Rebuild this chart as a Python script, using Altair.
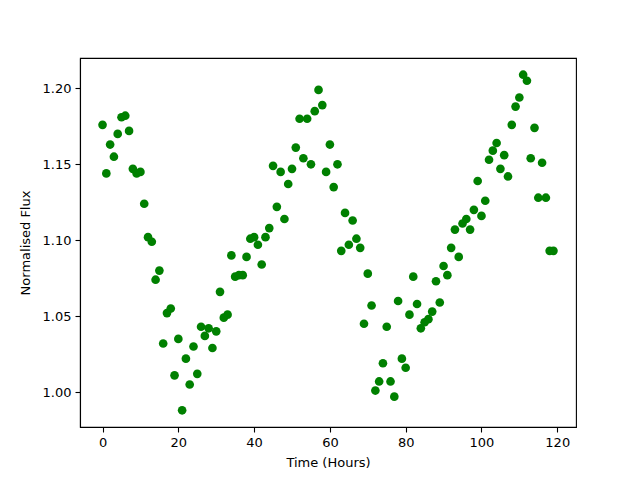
import altair as alt
import pandas as pd

hours = list(range(120))
flux = [
    1.176, 1.144, 1.163, 1.155, 1.170, 1.181, 1.182, 1.172, 1.147, 1.144,
    1.145, 1.124, 1.102, 1.099, 1.074, 1.080, 1.032, 1.052, 1.055, 1.011,
    1.035, 0.988, 1.022, 1.005, 1.030, 1.012, 1.043, 1.037, 1.042, 1.029,
    1.040, 1.066, 1.049, 1.051, 1.090, 1.076, 1.077, 1.077, 1.089, 1.101,
    1.102, 1.097, 1.084, 1.102, 1.108, 1.149, 1.122, 1.145, 1.114, 1.137,
    1.147, 1.161, 1.180, 1.154, 1.180, 1.150, 1.185, 1.199, 1.189, 1.145,
    1.163, 1.135, 1.150, 1.093, 1.118, 1.097, 1.113, 1.101, 1.095, 1.045,
    1.078, 1.057, 1.001, 1.007, 1.019, 1.043, 1.007, 0.997, 1.060, 1.022,
    1.016, 1.051, 1.076, 1.058, 1.042, 1.046, 1.048, 1.053, 1.073, 1.059,
    1.083, 1.077, 1.095, 1.107, 1.089, 1.111, 1.114, 1.107, 1.120, 1.139,
    1.116, 1.126, 1.153, 1.159, 1.164, 1.147, 1.156, 1.142, 1.176, 1.188,
    1.194, 1.209, 1.205, 1.154, 1.174, 1.128, 1.151, 1.128, 1.093, 1.093,
]
x_ticks = [0, 20, 40, 60, 80, 100, 120]
y_ticks = [1.00, 1.05, 1.10, 1.15, 1.20]

df = pd.DataFrame({"hours": hours, "flux": flux})

font = "DejaVu Sans"

chart = (
    alt.Chart(df)
    .mark_circle(color="#008000", opacity=1, size=75)
    .encode(
        x=alt.X(
            "hours:Q",
            scale=alt.Scale(domain=[-5.95, 124.95], nice=False, zero=False),
            axis=alt.Axis(values=x_ticks, title="Time (Hours)", format="d",
                          grid=False, titlePadding=7),
        ),
        y=alt.Y(
            "flux:Q",
            scale=alt.Scale(domain=[0.977, 1.220], nice=False, zero=False),
            axis=alt.Axis(values=y_ticks, title="Normalised Flux", format=".2f",
                          grid=False, titlePadding=10),
        ),
    )
    .properties(
        width=496,
        height=369,
        autosize=alt.AutoSizeParams(type="none"),
        padding={"left": 72, "top": 50, "right": 56, "bottom": 45},
        background="white",
    )
    .configure_view(stroke="black", strokeWidth=1.1, fill="white")
    .configure_axis(
        grid=False,
        domainColor="black",
        domainWidth=1.1,
        tickColor="black",
        tickWidth=1.1,
        tickSize=5,
        labelPadding=4,
        labelFont=font,
        labelFontSize=13,
        labelColor="black",
        titleFont=font,
        titleFontSize=13,
        titleFontWeight="normal",
        titleColor="black",
    )
)

chart.save("out.html", embed_options={"renderer": "svg", "actions": False})
